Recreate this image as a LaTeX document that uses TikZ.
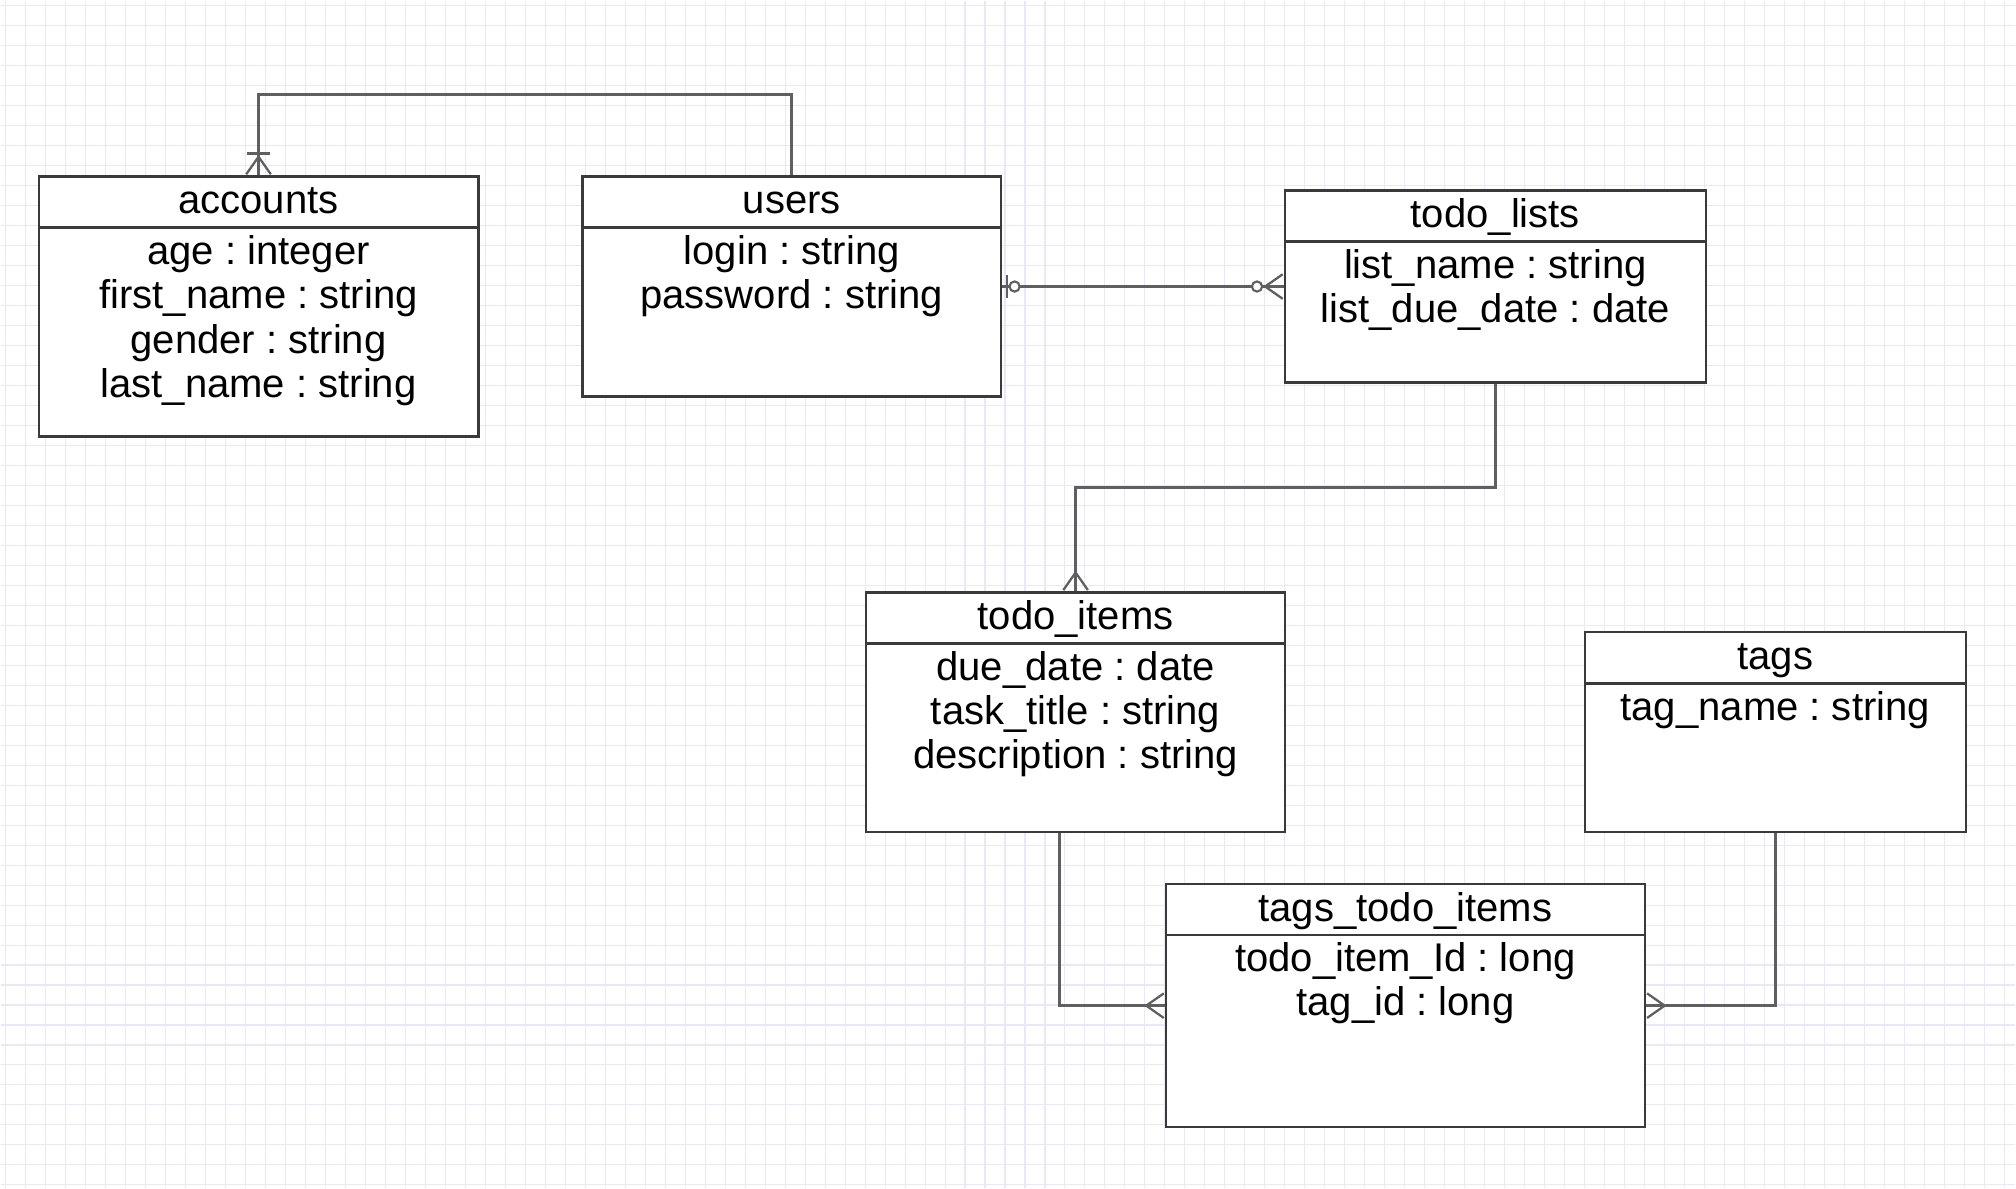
\documentclass[tikz,border=0pt]{standalone}
\usepackage{fontspec}
\setmainfont{Liberation Sans}
\usetikzlibrary{positioning,arrows.meta,calc}

\definecolor{gridblue}{RGB}{232,232,250}
\definecolor{boxgray}{RGB}{58,58,58}
\definecolor{relgray}{RGB}{95,95,95}

\tikzset{
    many/.tip={Straight Barb[reversed, length=10pt, width=14pt, line width=1.3pt]},
    onemany/.tip={Bar[width=13pt, line width=1.5pt] Straight Barb[reversed, length=10pt, width=14pt, line width=1.3pt]},
    zeromany/.tip={Circle[length=7pt, fill=white, line width=1.2pt] Straight Barb[reversed, length=10pt, width=14pt, line width=1.3pt]}
}

\begin{document}
\frenchspacing
\begin{tikzpicture}[
    font=\fontsize{22.8pt}{25.2pt}\selectfont,
    entity/.style={rectangle, draw=boxgray, line width=1.3pt, fill=white, anchor=north west, inner sep=0pt},
    title/.style={anchor=north, inner sep=0pt, minimum height=1.03cm, text height=18pt, text depth=4pt},
    attrs/.style={inner sep=0pt, align=center},
    boxline/.style={draw=boxgray, line width=1.3pt},
    rel/.style={draw=relgray, line width=1.6pt, preaction={draw=relgray, line width=1.6pt, arrows=-}}
]
% background grid
\draw[gridblue, line width=0.6pt, step=0.4cm, xshift=0.1cm, yshift=-0.1cm] (-0.1,0.1) grid (40.22,-23.66);
\useasboundingbox (0,0) rectangle (40.32,-23.76);

% accounts
\node[entity, minimum width=8.8cm, minimum height=5.2cm] (accounts) at (0.74,-3.5) {};
\node[title, minimum width=8.8cm] (accounts-t) at (accounts.north) {accounts};
\draw[boxline] (accounts-t.south west) -- (accounts-t.south east);
\node[attrs, below=0.15cm of accounts-t] (accounts-a) {age : integer\\first\_name : string\\gender : string\\last\_name : string};

% users
\node[entity, minimum width=8.38cm, minimum height=4.4cm] (users) at (11.62,-3.5) {};
\node[title, minimum width=8.38cm] (users-t) at (users.north) {users};
\draw[boxline] (users-t.south west) -- (users-t.south east);
\node[attrs, below=0.15cm of users-t] (users-a) {login : string\\password : string};

% todo_lists
\node[entity, minimum width=8.42cm, minimum height=3.84cm] (lists) at (25.68,-3.78) {};
\node[title, minimum width=8.42cm] (lists-t) at (lists.north) {todo\_lists};
\draw[boxline] (lists-t.south west) -- (lists-t.south east);
\node[attrs, below=0.15cm of lists-t] (lists-a) {list\_name : string\\list\_due\_date : date};

% todo_items
\node[entity, minimum width=8.38cm, minimum height=4.8cm] (items) at (17.3,-11.82) {};
\node[title, minimum width=8.38cm] (items-t) at (items.north) {todo\_items};
\draw[boxline] (items-t.south west) -- (items-t.south east);
\node[attrs, below=0.15cm of items-t] (items-a) {due\_date : date\\task\_title : string\\description : string};

% tags
\node[entity, minimum width=7.62cm, minimum height=4.0cm] (tags) at (31.68,-12.62) {};
\node[title, minimum width=7.62cm] (tags-t) at (tags.north) {tags};
\draw[boxline] (tags-t.south west) -- (tags-t.south east);
\node[attrs, below=0.15cm of tags-t] (tags-a) {tag\_name : string};

% tags_todo_items
\node[entity, minimum width=9.58cm, minimum height=4.86cm] (join) at (23.3,-17.66) {};
\node[title, minimum width=9.58cm] (join-t) at (join.north) {tags\_todo\_items};
\draw[boxline] (join-t.south west) -- (join-t.south east);
\node[attrs, below=0.13cm of join-t] (join-a) {todo\_item\_Id : long\\tag\_id : long};

% relations
\draw[rel, -{onemany}] (users.north) -- ++(0,1.62) -| (accounts.north);
\draw[rel, {Bar[width=13pt, line width=1.5pt, sep=2pt] Circle[length=7pt, fill=white, line width=1.2pt]}-{zeromany}] (users.east) -- (lists.west);
\draw[rel, -{many}] (lists.south) -- ++(0,-2.08) -| (items.north);
\draw[rel, -{many}] ([xshift=-0.33cm]items.south) |- (join.west);
\draw[rel, -{many}] (tags.south) |- (join.east);
\end{tikzpicture}
\end{document}
